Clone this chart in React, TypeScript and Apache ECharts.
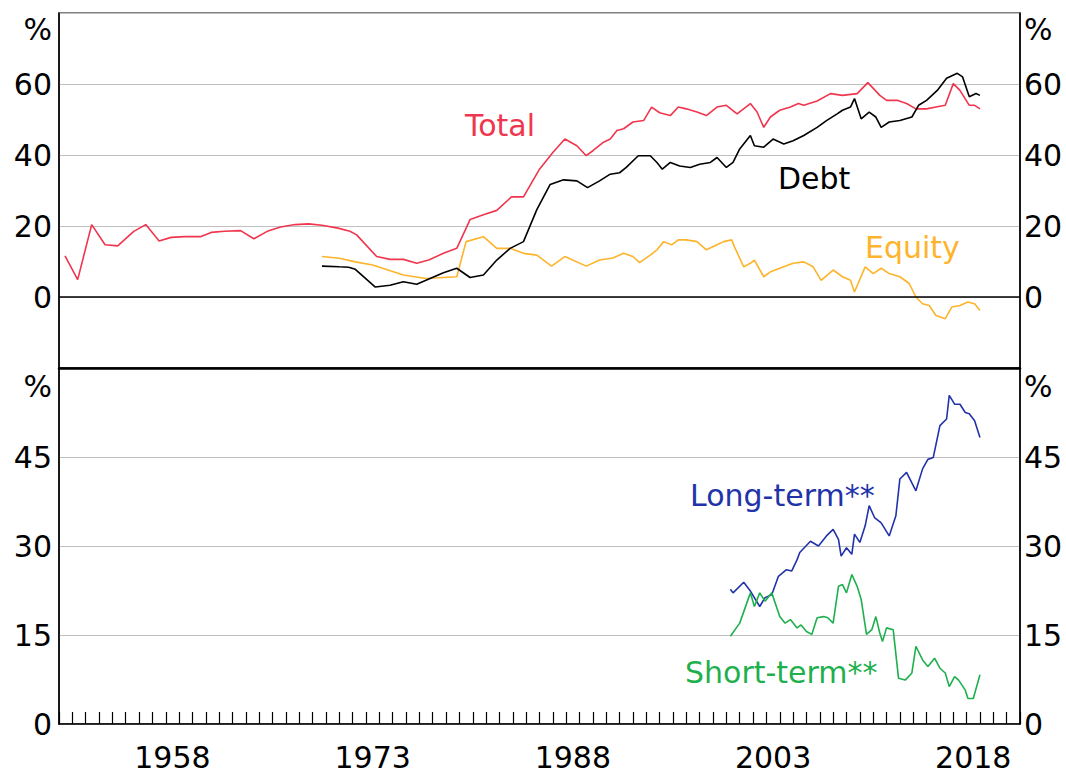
import React, { useEffect, useRef } from "react";
import * as echarts from "echarts";

// ---- Data ----
const totalYears = [1950.45, 1951.4, 1952.45, 1953.45, 1954.4, 1955.6, 1956.5, 1957.5, 1958.4, 1959.4, 1960.6, 1961.4, 1962.4, 1963.6, 1964.6, 1965.6, 1966.6, 1967.7, 1968.7, 1969.7, 1970.9, 1971.8, 1972.3, 1973.8, 1974.8, 1975.8, 1976.8, 1977.7, 1978.8, 1979.8, 1980.8, 1981.8, 1982.8, 1983.9, 1984.8, 1986.0, 1987.0, 1987.9, 1988.8, 1989.5, 1990.0, 1990.8, 1991.3, 1991.8, 1992.3, 1993.0, 1993.8, 1994.4, 1995.0, 1995.8, 1996.4, 1997.0, 1997.8, 1998.5, 1999.3, 2000.0, 2000.8, 2001.8, 2002.3, 2002.8, 2003.3, 2004.0, 2004.8, 2005.4, 2005.8, 2006.8, 2007.8, 2008.7, 2009.8, 2010.6, 2011.5, 2012.0, 2012.8, 2013.5, 2014.2, 2015.0, 2015.7, 2016.4, 2017.0, 2017.5, 2018.2, 2018.6, 2019.0];
const totalValues = [11.6, 4.9, 20.4, 14.7, 14.4, 18.5, 20.4, 15.8, 16.8, 17.0, 17.0, 18.2, 18.5, 18.7, 16.4, 18.5, 19.7, 20.4, 20.6, 20.2, 19.4, 18.5, 17.5, 11.4, 10.6, 10.6, 9.5, 10.4, 12.3, 13.7, 21.8, 23.2, 24.4, 28.2, 28.2, 36.0, 40.7, 44.5, 42.6, 39.8, 41.2, 43.6, 44.5, 46.9, 47.4, 49.3, 49.7, 53.5, 51.9, 51.1, 53.5, 53.0, 52.1, 51.1, 53.5, 54.0, 51.6, 54.5, 52.1, 47.8, 50.7, 52.6, 53.5, 54.5, 54.0, 55.2, 57.3, 56.8, 57.3, 60.4, 56.8, 55.4, 55.4, 54.5, 53.0, 53.0, 53.5, 54.0, 60.1, 58.2, 54.0, 54.0, 53.0];

const debtYears = [1969.7, 1971.0, 1971.7, 1972.2, 1973.7, 1974.8, 1975.8, 1976.8, 1977.8, 1978.8, 1979.8, 1980.8, 1981.8, 1982.8, 1983.8, 1984.8, 1985.8, 1986.8, 1987.8, 1988.8, 1989.6, 1990.5, 1991.3, 1992.0, 1992.5, 1993.4, 1994.3, 1994.8, 1995.2, 1995.8, 1996.5, 1997.3, 1998.0, 1998.8, 1999.3, 2000.0, 2000.5, 2001.0, 2001.8, 2002.1, 2002.8, 2003.5, 2004.3, 2005.0, 2005.8, 2006.8, 2007.5, 2008.3, 2008.7, 2009.3, 2009.6, 2010.1, 2010.7, 2011.2, 2011.6, 2012.2, 2013.0, 2013.9, 2014.4, 2015.0, 2015.8, 2016.5, 2017.3, 2017.7, 2018.2, 2018.7, 2019.0];
const debtValues = [8.7, 8.5, 8.4, 7.8, 2.8, 3.3, 4.3, 3.6, 5.2, 6.8, 8.1, 5.5, 6.2, 10.4, 13.7, 15.6, 24.6, 31.7, 33.0, 32.7, 30.8, 32.7, 34.6, 35.0, 36.5, 39.8, 39.8, 37.9, 36.0, 37.9, 36.9, 36.5, 37.4, 37.9, 39.3, 36.5, 37.9, 41.7, 45.5, 42.6, 42.2, 44.5, 43.1, 44.0, 45.5, 47.8, 49.7, 51.6, 52.6, 53.5, 55.9, 50.2, 52.1, 50.7, 47.8, 49.3, 49.7, 50.7, 54.0, 55.4, 58.2, 61.6, 63.0, 62.0, 56.4, 57.3, 56.8];

const equityYears = [1969.7, 1971.0, 1972.2, 1973.5, 1975.8, 1977.5, 1979.8, 1980.5, 1981.8, 1982.8, 1983.8, 1984.8, 1985.8, 1986.9, 1987.9, 1989.5, 1990.5, 1991.5, 1992.3, 1993.0, 1993.5, 1994.3, 1994.8, 1995.3, 1995.9, 1996.4, 1997.0, 1997.8, 1998.5, 1999.3, 1999.8, 2000.4, 2000.6, 2001.3, 2001.8, 2002.1, 2002.8, 2003.3, 2004.0, 2005.0, 2005.8, 2006.5, 2007.1, 2008.0, 2008.7, 2009.3, 2009.6, 2010.4, 2011.0, 2011.6, 2012.2, 2013.0, 2013.7, 2014.2, 2014.7, 2015.2, 2015.7, 2016.4, 2016.9, 2017.5, 2018.1, 2018.6, 2019.0];
const equityValues = [11.4, 10.9, 9.9, 9.0, 6.2, 5.2, 5.7, 15.6, 17.0, 13.7, 13.7, 12.3, 11.8, 8.7, 11.4, 8.7, 10.4, 11.0, 12.3, 11.4, 9.7, 11.8, 13.3, 15.6, 14.7, 16.1, 16.1, 15.6, 13.3, 14.7, 15.6, 16.1, 14.2, 8.5, 9.5, 10.4, 5.7, 7.1, 8.1, 9.5, 9.9, 8.5, 4.7, 7.6, 5.7, 4.7, 1.4, 8.5, 6.6, 8.1, 6.6, 5.7, 3.8, 0.0, -1.9, -2.4, -5.2, -6.1, -2.8, -2.4, -1.4, -1.9, -3.8];

const longYears = [2000.3, 2000.5, 2001.3, 2001.8, 2002.5, 2002.9, 2003.4, 2003.9, 2004.5, 2004.9, 2005.3, 2005.5, 2006.3, 2006.9, 2007.5, 2008.0, 2008.4, 2008.6, 2009.0, 2009.4, 2009.6, 2010.0, 2010.4, 2010.7, 2011.1, 2011.6, 2012.2, 2012.7, 2013.0, 2013.5, 2014.2, 2014.7, 2015.1, 2015.5, 2016.0, 2016.5, 2016.7, 2017.1, 2017.5, 2017.9, 2018.2, 2018.6, 2019.0];
const longValues = [22.7, 22.1, 23.9, 22.4, 19.8, 21.3, 21.8, 24.9, 26.0, 25.8, 27.7, 28.9, 30.8, 30.0, 31.7, 32.8, 31.1, 28.3, 29.7, 28.6, 32.0, 30.6, 33.4, 36.8, 34.8, 33.9, 31.7, 35.1, 41.3, 42.4, 39.3, 43.0, 44.6, 44.9, 50.3, 51.4, 55.4, 53.9, 53.9, 52.5, 52.3, 51.1, 48.3];

const shortYears = [2000.3, 2001.0, 2001.8, 2002.1, 2002.5, 2002.9, 2003.4, 2004.0, 2004.4, 2004.8, 2005.3, 2005.6, 2006.0, 2006.4, 2006.8, 2007.3, 2007.6, 2008.0, 2008.4, 2008.7, 2009.0, 2009.4, 2009.8, 2010.1, 2010.5, 2010.9, 2011.2, 2011.5, 2011.7, 2012.0, 2012.5, 2012.9, 2013.4, 2013.9, 2014.2, 2014.7, 2015.1, 2015.6, 2016.0, 2016.4, 2016.7, 2017.1, 2017.4, 2017.9, 2018.1, 2018.5, 2019.0];
const shortValues = [14.8, 17.0, 22.1, 19.8, 22.1, 20.7, 22.1, 18.1, 17.0, 17.6, 16.2, 16.7, 15.6, 15.1, 17.9, 18.1, 17.9, 17.0, 23.2, 23.5, 22.1, 25.2, 23.2, 21.0, 15.1, 15.9, 18.1, 15.3, 13.9, 16.2, 15.9, 7.7, 7.4, 8.6, 13.1, 10.8, 9.7, 11.1, 9.4, 8.6, 6.3, 8.0, 7.4, 5.7, 4.3, 4.3, 8.3];

const axisYears: string[] = [];
for (let y = 1950; y < 2022; y++) axisYears.push(String(y));
const labelledYears = ["1958", "1973", "1988", "2003", "2018"];
const topTicks = { min: -20, max: 80, interval: 20 };
const bottomTicks = { min: 0, max: 60, interval: 15 };

const FONT = '"DejaVu Sans", "Liberation Sans", Arial, sans-serif';
const FS = 30;
const RED = "#f0364e";
const BLACK = "#000000";
const ORANGE = "#fdb42c";
const BLUE = "#2233aa";
const GREEN = "#1fb04e";

const zip = (xs: number[], ys: number[]) => xs.map((x, i) => [x, ys[i]]);

function lineSeries(name: string, xs: number[], ys: number[], color: string, xi: number, yi: number, extra: any = {}) {
  return {
    name,
    type: "line",
    xAxisIndex: xi,
    yAxisIndex: yi,
    data: zip(xs, ys),
    showSymbol: false,
    symbol: "none",
    lineStyle: { color, width: 1.6 },
    itemStyle: { color },
    z: 3,
    ...extra,
  };
}

export default function App() {
  const ref = useRef<HTMLDivElement>(null);
  useEffect(() => {
    if (!ref.current) return;
    const chart = echarts.init(ref.current, undefined, { renderer: "svg" });
    const yLabel = (hide: number[]) => (v: number) => (hide.includes(v) ? "" : String(v));
    const yAxisBase = (grid: number, ticks: any, pos: string, hide: number[], split: boolean) => ({
      type: "value",
      gridIndex: grid,
      position: pos,
      min: ticks.min,
      max: ticks.max,
      interval: ticks.interval,
      axisLine: { show: true, lineStyle: { color: "#000", width: 1.5 } },
      axisTick: { show: false },
      axisLabel: {
        formatter: yLabel(hide),
        fontSize: FS,
        fontFamily: FONT,
        color: "#000",
        margin: pos === "left" ? 7 : 4,
        showMinLabel: true,
        showMaxLabel: true,
      },
      splitLine: { show: split, lineStyle: { color: "#c0c0c0", width: 1.2 } },
    });

    const option: any = {
      animation: false,
      backgroundColor: "#ffffff",
      grid: [
        { left: 59, right: 46, top: 13, height: 355, show: true, borderColor: "#000", borderWidth: 1.2, backgroundColor: "transparent" },
        { left: 59, right: 46, top: 368, height: 356, show: true, borderColor: "#000", borderWidth: 1.2, backgroundColor: "transparent" },
      ],
      xAxis: [
        {
          type: "value", gridIndex: 0, min: 1950, max: 2022, position: "bottom",
          axisLine: { show: true, onZero: false, lineStyle: { color: "#000", width: 2.5 } },
          axisTick: { show: false }, axisLabel: { show: false }, splitLine: { show: false },
        },
        { type: "value", gridIndex: 1, min: 1950, max: 2022, show: false },
        {
          type: "category", gridIndex: 1, data: axisYears, boundaryGap: true, position: "bottom",
          axisLine: { show: true, lineStyle: { color: "#000", width: 1.5 } },
          axisTick: { show: true, inside: true, length: 12, interval: 0, lineStyle: { color: "#000", width: 1.2 } },
          axisLabel: {
            interval: (_i: number, v: string) => labelledYears.includes(v),
            fontSize: FS, fontFamily: FONT, color: "#000", margin: 18,
          },
          splitLine: { show: false },
        },
      ],
      yAxis: [
        yAxisBase(0, topTicks, "left", [-20, 80], true),
        yAxisBase(0, topTicks, "right", [-20, 80], false),
        yAxisBase(1, bottomTicks, "left", [60], true),
        yAxisBase(1, bottomTicks, "right", [60], false),
      ],
      series: [
        lineSeries("Total", totalYears, totalValues, RED, 0, 0, {
          markLine: {
            silent: true, symbol: ["none", "none"], label: { show: false },
            lineStyle: { color: "#000", width: 1.5, type: "solid" },
            data: [{ yAxis: 0 }],
          },
        }),
        lineSeries("Equity", equityYears, equityValues, ORANGE, 0, 0),
        lineSeries("Debt", debtYears, debtValues, BLACK, 0, 0),
        lineSeries("Long-term**", longYears, longValues, BLUE, 1, 2),
        lineSeries("Short-term**", shortYears, shortValues, GREEN, 1, 2),
      ],
      graphic: [
        { type: "text", x: 52, y: 29, style: { text: "%", fill: "#000", font: `${FS}px ${FONT}`, textAlign: "right", textVerticalAlign: "middle" } },
        { type: "text", x: 1024, y: 29, style: { text: "%", fill: "#000", font: `${FS}px ${FONT}`, textAlign: "left", textVerticalAlign: "middle" } },
        { type: "text", x: 52, y: 386, style: { text: "%", fill: "#000", font: `${FS}px ${FONT}`, textAlign: "right", textVerticalAlign: "middle" } },
        { type: "text", x: 1024, y: 386, style: { text: "%", fill: "#000", font: `${FS}px ${FONT}`, textAlign: "left", textVerticalAlign: "middle" } },
        { type: "text", x: 465, y: 125, style: { text: "Total", fill: RED, font: `${FS}px ${FONT}`, textAlign: "left", textVerticalAlign: "middle" } },
        { type: "text", x: 778, y: 178, style: { text: "Debt", fill: BLACK, font: `${FS}px ${FONT}`, textAlign: "left", textVerticalAlign: "middle" } },
        { type: "text", x: 865, y: 247, style: { text: "Equity", fill: ORANGE, font: `${FS}px ${FONT}`, textAlign: "left", textVerticalAlign: "middle" } },
        { type: "text", x: 690, y: 495, style: { text: "Long-term**", fill: BLUE, font: `${FS}px ${FONT}`, textAlign: "left", textVerticalAlign: "middle" } },
        { type: "text", x: 685, y: 672, style: { text: "Short-term**", fill: GREEN, font: `${FS}px ${FONT}`, textAlign: "left", textVerticalAlign: "middle" } },
      ],
    };
    chart.setOption(option);
    return () => chart.dispose();
  }, []);
  return <div ref={ref} style={{ position: "absolute", left: 0, top: 0, width: 1066, height: 774 }} />;
}
